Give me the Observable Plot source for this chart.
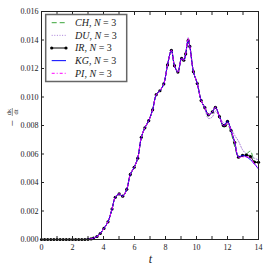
<!DOCTYPE html>
<html><head><meta charset="utf-8">
<script src="https://cdn.jsdelivr.net/npm/d3@7"></script>
<script src="https://cdn.jsdelivr.net/npm/@observablehq/plot@0.6"></script>
<style>html,body{margin:0;padding:0;background:#fff;}</style>
</head><body><div id="chart"></div>
<script>
const T = [0,0.2,0.4,0.6,0.8,1.0,1.2,1.4,1.6,1.8,2.0,2.2,2.4,2.6,2.8,3.0,3.2,
 3.36,3.58,3.79,4.03,4.29,4.55,4.76,5.01,5.24,5.50,
 5.73,5.98,6.21,6.44,6.67,6.92,7.17,7.40,7.64,7.89,
 8.13,8.38,8.58,8.80,9.04,9.18,9.30,9.46,9.57,9.80,
 10.05,10.30,10.54,10.77,11.02,11.22,11.48,11.73,11.85,12.00,
 12.23,12.47,12.71,12.97,13.22,13.48,13.74,14.00];
const IR = [0,0,0,0,0,0,0,0,0,0,0,0,0,0,0,0.00001,0.00004,
 0.00010,0.00021,0.00042,0.00078,0.00124,0.00214,0.00296,0.00320,0.00304,0.00352,
 0.00457,0.00507,0.00571,0.00717,0.00784,0.00834,0.00910,0.01016,0.01044,0.01092,
 0.01225,0.01328,0.01220,0.01175,0.01272,0.01258,0.01302,0.01395,0.01355,0.01178,
 0.01094,0.00975,0.00925,0.00875,0.00895,0.00928,0.00862,0.00800,0.00800,0.00830,
 0.00764,0.00680,0.00578,0.00590,0.00592,0.00582,0.00543,0.00542];
const CH = [0,0,0,0,0,0,0,0,0,0,0,0,0,0,0,0.00001,0.00004,
 0.00010,0.00021,0.00042,0.00078,0.00124,0.00214,0.00296,0.00320,0.00304,0.00352,
 0.00457,0.00507,0.00571,0.00717,0.00784,0.00834,0.00910,0.01016,0.01044,0.01092,
 0.01225,0.01328,0.01220,0.01175,0.01272,0.01258,0.01302,0.01380,0.01355,0.01178,
 0.01094,0.00975,0.00925,0.00875,0.00895,0.00928,0.00862,0.00790,0.00790,0.00810,
 0.00750,0.00650,0.00580,0.00590,0.00600,0.00620,0.00550,0.00540];
const DU = [0,0,0,0,0,0,0,0,0,0,0,0,0,0,0,0.00001,0.00004,
 0.00010,0.00021,0.00042,0.00078,0.00124,0.00214,0.00296,0.00320,0.00304,0.00352,
 0.00457,0.00507,0.00571,0.00717,0.00784,0.00834,0.00910,0.01016,0.01044,0.01092,
 0.01225,0.01328,0.01220,0.01175,0.01272,0.01258,0.01302,0.01418,0.01355,0.01178,
 0.01094,0.00975,0.00910,0.00850,0.00860,0.00900,0.00860,0.00820,0.00810,0.00820,
 0.00780,0.00730,0.00690,0.00630,0.00600,0.00590,0.00570,0.00560];
const KG = [0,0,0,0,0,0,0,0,0,0,0,0,0,0,0,0.00001,0.00004,
 0.00010,0.00021,0.00042,0.00078,0.00124,0.00214,0.00296,0.00320,0.00304,0.00352,
 0.00457,0.00507,0.00571,0.00717,0.00784,0.00834,0.00910,0.01016,0.01044,0.01092,
 0.01225,0.01328,0.01220,0.01175,0.01272,0.01258,0.01302,0.01400,0.01355,0.01178,
 0.01094,0.00975,0.00925,0.00875,0.00895,0.00928,0.00862,0.00800,0.00810,0.00830,
 0.00764,0.00680,0.00580,0.00590,0.00580,0.00560,0.00530,0.00495];
const PI = [0,0,0,0,0,0,0,0,0,0,0,0,0,0,0,0.00001,0.00004,
 0.00010,0.00021,0.00042,0.00078,0.00124,0.00214,0.00296,0.00320,0.00304,0.00352,
 0.00457,0.00507,0.00571,0.00717,0.00784,0.00834,0.00910,0.01016,0.01044,0.01092,
 0.01225,0.01328,0.01220,0.01175,0.01272,0.01258,0.01302,0.01410,0.01355,0.01178,
 0.01094,0.00975,0.00925,0.00875,0.00895,0.00928,0.00862,0.00800,0.00800,0.00820,
 0.00764,0.00680,0.00578,0.00580,0.00580,0.00570,0.00530,0.00500];
const seriesNames = ["CH", "DU", "IR", "KG", "PI"];
const seriesColors = ["#3aa63a", "#a87fd8", "#000000", "#0000ff", "#ff00ff"];
const seriesDash = ["5,3", "1,1.6", null, null, "3,2,1,2"];
const xTicks = [0,2,4,6,8,10,12,14];
const xMinor = [0,1,2,3,4,5,6,7,8,9,10,11,12,13,14];
const yTicks = [0,0.002,0.004,0.006,0.008,0.010,0.012,0.014,0.016];

const vals = {CH, DU, IR, KG, PI};
const rows = (k) => T.map((t, i) => ({t, v: vals[k][i]}));

const W = 269, H = 269;
const lineMarks = seriesNames.map((k, i) => {
  const opts = {x: "t", y: "v", stroke: seriesColors[i], strokeWidth: 1, curve: "catmull-rom"};
  if (seriesDash[i]) opts.strokeDasharray = seriesDash[i];
  return Plot.line(rows(k), opts);
});
const irIndex = 2;
const marks = [
  ...lineMarks.slice(0, irIndex),
  lineMarks[irIndex],
  Plot.dot(rows("IR"), {x: "t", y: "v", r: 1.6, fill: "#000", stroke: "none"}),
  ...lineMarks.slice(irIndex + 1),
  Plot.axisX({ticks: xTicks, tickSize: 0, tickPadding: 5, tickFormat: d3.format("d")}),
  Plot.axisX({ticks: xMinor, tickSize: -3, text: null, stroke: "#222"}),
  Plot.axisX({ticks: xMinor, anchor: "top", tickSize: -3, text: null, label: null, stroke: "#222"}),
  Plot.axisY({ticks: yTicks, tickSize: 0, tickPadding: 3, tickFormat: d3.format(".3f"), label: null}),
  Plot.axisY({ticks: yTicks, tickSize: -3, text: null, label: null, stroke: "#222"}),
  Plot.axisY({ticks: yTicks, anchor: "right", tickSize: -3, text: null, label: null, stroke: "#222"}),
  Plot.frame({stroke: "#222", strokeWidth: 1})
];

const chart = Plot.plot({
  width: W, height: H,
  marginLeft: 41, marginRight: 11, marginTop: 11, marginBottom: 30,
  style: {fontFamily: "Liberation Serif", fontSize: "8px", color: "#222", background: "#fff"},
  x: {domain: [0, 14], label: null},
  y: {domain: [0, 0.016], label: null},
  marks
});
document.getElementById("chart").appendChild(chart);

const svg = d3.select(chart);
// x label
svg.append("text").attr("x", 150.5).attr("y", 263).attr("text-anchor", "middle")
  .attr("font-family", "Liberation Serif").attr("font-style", "italic").attr("font-size", 12)
  .attr("fill", "#222").text("t");
// y label: −dκ/dt
const yl = svg.append("g").attr("transform", "translate(12.3,120) rotate(-90)")
  .attr("font-family", "Liberation Serif").attr("fill", "#222").attr("text-anchor", "middle");
yl.append("text").attr("x", -3.5).attr("y", 3.3).attr("font-size", 11).text("−");
yl.append("text").attr("x", 8).attr("y", -1.3).attr("font-size", 6.5).text("dκ");
yl.append("text").attr("x", 8).attr("y", 5.4).attr("font-size", 6.5).text("dt");
yl.append("line").attr("x1", 4).attr("x2", 12).attr("y1", 0).attr("y2", 0).attr("stroke", "#222").attr("stroke-width", 0.5);

// legend
const lg = svg.append("g").attr("text-anchor", "start");
lg.append("rect").attr("x", 45.7).attr("y", 14.5).attr("width", 81).attr("height", 67)
  .attr("fill", "#fff").attr("stroke", "#666").attr("stroke-width", 1.5);
seriesNames.forEach((k, i) => {
  const y = 22.7 + 12.65 * i;
  const ln = lg.append("line").attr("x1", 51.7).attr("x2", 66).attr("y1", y).attr("y2", y)
    .attr("stroke", seriesColors[i]).attr("stroke-width", 1);
  if (seriesDash[i]) ln.attr("stroke-dasharray", seriesDash[i]);
  if (k === "IR") {
    [51.7, 66].forEach(cx => lg.append("circle").attr("cx", cx).attr("cy", y).attr("r", 1.6).attr("fill", "#000"));
  }
  const tx = lg.append("text").attr("x", 75).attr("y", y + 3.3).attr("text-anchor", "start")
    .attr("font-family", "Liberation Serif").attr("font-size", 10).attr("fill", "#222");
  tx.append("tspan").attr("font-style", "italic").text(k);
  tx.append("tspan").text(", ");
  tx.append("tspan").attr("font-style", "italic").text("N");
  tx.append("tspan").text(" = 3");
});
</script></body></html>
